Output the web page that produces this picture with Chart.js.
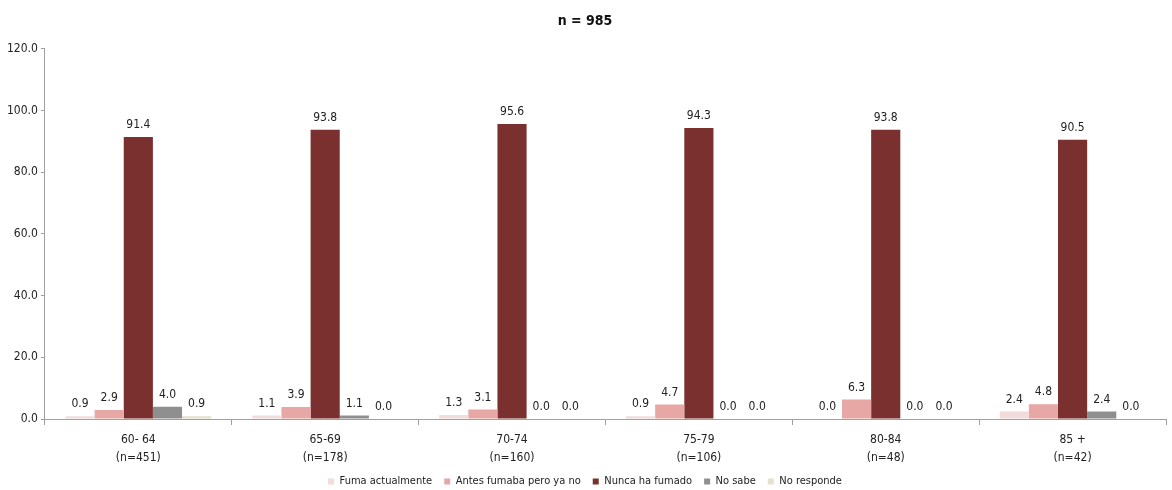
<!DOCTYPE html>
<html><head><meta charset="utf-8">
<script src="https://cdn.jsdelivr.net/npm/chart.js@4/dist/chart.umd.min.js"></script>
<style>html,body{margin:0;padding:0;background:#fff}#wrap{width:1172px;height:490px}</style>
</head><body><div id="wrap"><canvas id="c" width="1172" height="490"></canvas></div>
<script>
const categories = [["60- 64","(n=451)"],["65-69","(n=178)"],["70-74","(n=160)"],["75-79","(n=106)"],["80-84","(n=48)"],["85 +","(n=42)"]];
const seriesNames = ["Fuma actualmente","Antes fumaba pero ya no","Nunca ha fumado","No sabe","No responde"];
const fuma = [0.9, 1.1, 1.3, 0.9, 0.0, 2.4];
const antes = [2.9, 3.9, 3.1, 4.7, 6.3, 4.8];
const nunca = [91.4, 93.8, 95.6, 94.3, 93.8, 90.5];
const noSabe = [4.0, 1.1, 0.0, 0.0, 0.0, 2.4];
const noResponde = [0.9, 0.0, 0.0, 0.0, 0.0, 0.0];
const colors = ["#F2DCDB","#E6A7A5","#7A302E","#8F8F8F","#E4E1CE"];
const FONT = "'Liberation Sans Narrow','DejaVu Sans Condensed','Open Sans',sans-serif";

const labelPlugin = {
  id:'vals',
  beforeDraw(chart){
    if (chart.legend) chart.legend.top -= 9;
  },
  afterDatasetsDraw(chart){
    const ctx = chart.ctx;
    ctx.save();
    ctx.font = "12px " + FONT;
    ctx.fillStyle = "#222";
    ctx.textAlign = "center";
    ctx.textBaseline = "bottom";
    chart.data.datasets.forEach((ds,i)=>{
      chart.getDatasetMeta(i).data.forEach((bar,j)=>{
        ctx.fillText(ds.data[j].toFixed(1), bar.x, bar.y - 6);
      });
    });
    ctx.restore();
  }
};

const dataArrays = [fuma, antes, nunca, noSabe, noResponde];
new Chart(document.getElementById('c'), {
  type:'bar',
  data:{
    labels: categories,
    datasets: dataArrays.map((d,i)=>({label:seriesNames[i], data:d, backgroundColor:colors[i], barPercentage:1.0, categoryPercentage:0.78}))
  },
  plugins:[labelPlugin],
  options:{
    responsive:false, animation:false,
    layout:{padding:{left:4,right:6,top:2,bottom:-16}},
    plugins:{
      title:{display:true, text:"n = 985", color:"#111", font:{family:FONT, size:14, weight:'bold'}, padding:{top:11,bottom:19}},
      legend:{position:'bottom', labels:{boxWidth:6, boxHeight:6, color:"#222", font:{family:FONT, size:11}, padding:12}},
      tooltip:{enabled:false}
    },
    scales:{
      x:{
        grid:{display:true, drawOnChartArea:false, offset:true, tickLength:6, color:"#A0A0A0"},
        border:{color:"#A0A0A0"},
        ticks:{color:"#222", font:{family:FONT, size:12, lineHeight:1.5}, padding:6}
      },
      y:{
        min:0, max:120,
        grid:{display:true, drawOnChartArea:false, tickLength:4, color:"#A0A0A0"},
        border:{color:"#A0A0A0"},
        ticks:{stepSize:20, color:"#222", font:{family:FONT, size:12}, padding:3, callback:v=>v.toFixed(1)}
      }
    }
  }
});
</script></body></html>
